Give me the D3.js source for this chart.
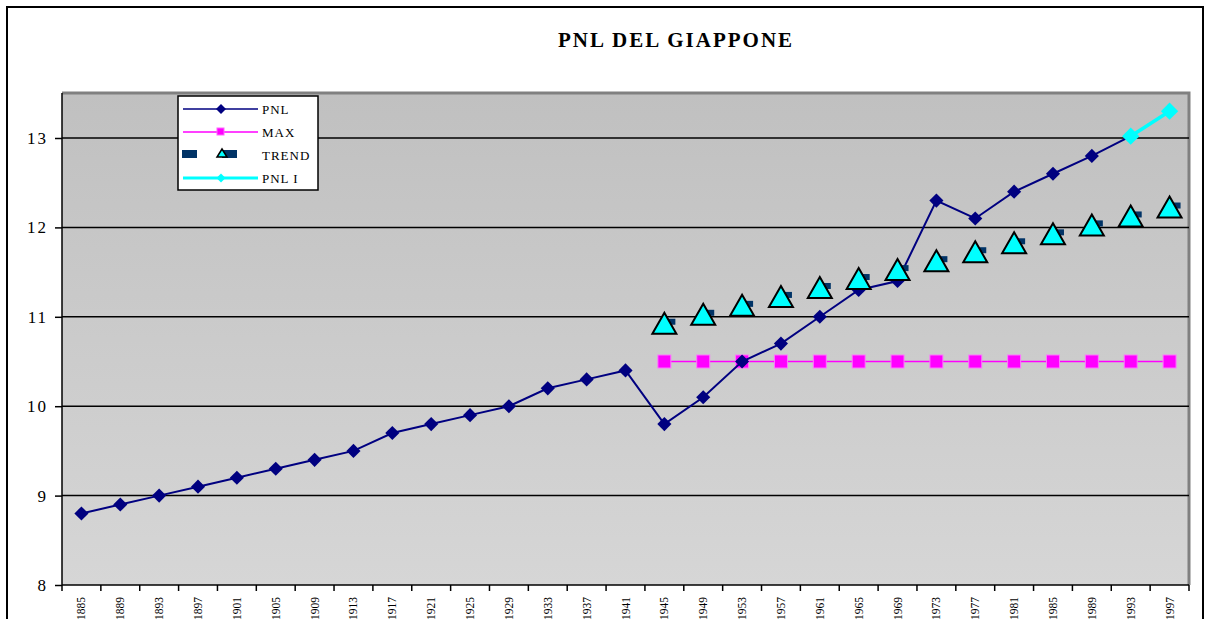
<!DOCTYPE html>
<html>
<head>
<meta charset="utf-8">
<script src="https://cdn.jsdelivr.net/npm/d3@7"></script>
<style>
  body { margin: 0; background: #fff; }
  svg text { font-family: "Liberation Serif", "Times New Roman", "DejaVu Serif", serif !important; }
</style>
</head>
<body>
<div id="chart"></div>
<script>
// data
const years = d3.range(1885, 1998, 4).map(String);
const pnl = [8.8, 8.9, 9.0, 9.1, 9.2, 9.3, 9.4, 9.5, 9.7, 9.8, 9.9, 10.0, 10.2, 10.3, 10.4,
             9.8, 10.1, 10.5, 10.7, 11.0, 11.3, 11.4, 12.3, 12.1, 12.4, 12.6, 12.8, 13.02];
const maxYears = years.slice(15);
const maxVals = maxYears.map(() => 10.5);
const trendYears = years.slice(15);
const trend = [10.9, 11.0, 11.1, 11.2, 11.3, 11.4, 11.5, 11.6, 11.7, 11.8, 11.9, 12.0, 12.1, 12.2];
const pnlIYears = ["1993", "1997"];
const pnlI = [13.02, 13.3];
const yTicks = [8, 9, 10, 11, 12, 13];

const W = 1212, H = 619;
const m = {left: 62, right: 1189, top: 93, bottom: 585};
const SERIF = "'Liberation Serif', 'Times New Roman', serif";

let svg = d3.select("#chart").append("svg").attr("width", W).attr("height", H);

// outer frame
svg.append("rect").attr("x", 7).attr("y", 7).attr("width", 1196).attr("height", 640)
    .attr("fill", "#fff").attr("stroke", "#000").attr("stroke-width", 2);

let x = d3.scaleBand().domain(years).range([m.left, m.right]);
let y = d3.scaleLinear().domain([8, 13.5]).range([m.bottom, m.bottom - 5.5 * 89.4]);

// plot background gradient
let defs = svg.append("defs");
let grad = defs.append("linearGradient").attr("id", "bg").attr("x1", 0).attr("y1", 0).attr("x2", 0).attr("y2", 1);
grad.append("stop").attr("offset", "0%").attr("stop-color", "#c0c0c0");
grad.append("stop").attr("offset", "100%").attr("stop-color", "#d6d6d6");

svg.append("rect").attr("x", m.left).attr("y", m.top)
    .attr("width", m.right - m.left).attr("height", m.bottom - m.top)
    .attr("fill", "url(#bg)");
svg.append("path")
    .attr("d", `M${m.left},${m.top}H${m.right}V${m.bottom}`)
    .attr("fill", "none").attr("stroke", "#808080").attr("stroke-width", 3);

// gridlines
svg.selectAll(".grid").data(yTicks.slice(1)).enter().append("line")
    .attr("x1", m.left).attr("x2", m.right)
    .attr("y1", d => y(d)).attr("y2", d => y(d))
    .attr("stroke", "#000").attr("stroke-width", 1.5);

// title
svg.append("text").attr("x", 676).attr("y", 47).attr("text-anchor", "middle")
    .attr("font-family", SERIF)
    .attr("font-size", 21).attr("font-weight", "bold").attr("letter-spacing", 2)
    .text("PNL DEL GIAPPONE");

// y axis
let yAxis = svg.append("g").attr("transform", `translate(${m.left},0)`)
    .call(d3.axisLeft(y).tickValues(yTicks).tickSize(7).tickFormat(d3.format("d")));
yAxis.attr("font-family", SERIF);
yAxis.select(".domain").attr("d", `M0,${m.top}V${m.bottom}`).attr("stroke", "#000").attr("stroke-width", 1.5);
yAxis.selectAll(".tick line").attr("stroke", "#000").attr("stroke-width", 1.5);
yAxis.selectAll("text").attr("font-size", 17)
    .attr("fill", "#000").attr("x", -14).attr("letter-spacing", 2);

// x axis
let xAxis = svg.append("g").attr("transform", `translate(0,${m.bottom})`).attr("font-family", SERIF);
xAxis.append("line").attr("x1", m.left).attr("x2", m.right).attr("stroke", "#000").attr("stroke-width", 1.5);
let bounds = years.map(d => x(d)).concat([m.right]);
xAxis.selectAll(".xt").data(bounds).enter().append("line")
    .attr("x1", d => d).attr("x2", d => d).attr("y1", 0).attr("y2", 6)
    .attr("stroke", "#000").attr("stroke-width", 1.5);
xAxis.selectAll(".xl").data(years).enter().append("text")
    .attr("transform", d => `translate(${x(d) + x.bandwidth() / 2 + 4},12) rotate(-90)`)
    .attr("text-anchor", "end").attr("font-size", 11.5).text(d => d);

let cx = d => x(d) + x.bandwidth() / 2;
let line = d3.line().x(d => cx(d[0])).y(d => y(d[1]));

// MAX
let maxData = maxYears.map((d, i) => [d, maxVals[i]]);
svg.append("path").datum(maxData).attr("d", line)
    .attr("fill", "none").attr("stroke", "#ff00ff").attr("stroke-width", 1.5);
svg.selectAll(".maxm").data(maxData).enter().append("rect")
    .attr("x", d => cx(d[0]) - 6.5).attr("y", d => y(d[1]) - 6.5)
    .attr("width", 13).attr("height", 13)
    .attr("fill", "#ff00ff").attr("stroke", "#ff77ff").attr("stroke-width", 1);

// PNL
let pnlData = pnl.map((v, i) => [years[i], v]);
svg.append("path").datum(pnlData).attr("d", line)
    .attr("fill", "none").attr("stroke", "#000080").attr("stroke-width", 2);
let diamond = d3.symbol().type(d3.symbolSquare).size(100);
svg.selectAll(".pnlm").data(pnlData).enter().append("path")
    .attr("d", diamond)
    .attr("transform", d => `translate(${cx(d[0])},${y(d[1])}) rotate(45)`)
    .attr("fill", "#000080");

// PNL I
let pnlIData = pnlIYears.map((d, i) => [d, pnlI[i]]);
svg.append("path").datum(pnlIData).attr("d", line)
    .attr("fill", "none").attr("stroke", "#00ffff").attr("stroke-width", 3.5);
svg.selectAll(".pnlim").data(pnlIData).enter().append("path")
    .attr("d", d3.symbol().type(d3.symbolSquare).size(150))
    .attr("transform", d => `translate(${cx(d[0])},${y(d[1])}) rotate(45)`)
    .attr("fill", "#00ffff");

// TREND
let trendData = trendYears.map((d, i) => [d, trend[i]]);
svg.selectAll(".trs").data(trendData).enter().append("rect")
    .attr("x", d => cx(d[0]) + 4).attr("y", d => y(d[1]) - 7)
    .attr("width", 7).attr("height", 6).attr("fill", "#003366");
let tri = d => {
    let px = cx(d[0]), py = y(d[1]);
    return `M${px},${py - 13}L${px + 12},${py + 8}L${px - 12},${py + 8}Z`;
};
svg.selectAll(".trm").data(trendData).enter().append("path")
    .attr("d", tri).attr("fill", "#00ffff").attr("stroke", "#000").attr("stroke-width", 2);

// legend
let lg = svg.append("g").attr("font-family", SERIF);
lg.append("rect").attr("x", 178).attr("y", 96).attr("width", 140).attr("height", 94)
    .attr("fill", "#fff").attr("stroke", "#000").attr("stroke-width", 1.5);
let items = [
    {name: "PNL", y: 109},
    {name: "MAX", y: 132},
    {name: "TREND", y: 155},
    {name: "PNL I", y: 178}
];
lg.selectAll("text").data(items).enter().append("text")
    .attr("x", 262).attr("y", d => d.y + 5).attr("font-size", 13).attr("letter-spacing", 1)
    .text(d => d.name);
// PNL entry
lg.append("line").attr("x1", 183).attr("x2", 258).attr("y1", 109).attr("y2", 109)
    .attr("stroke", "#000080").attr("stroke-width", 1.5);
lg.append("path").attr("d", d3.symbol().type(d3.symbolSquare).size(50))
    .attr("transform", "translate(221,109) rotate(45)").attr("fill", "#000080");
// MAX entry
lg.append("line").attr("x1", 183).attr("x2", 258).attr("y1", 132).attr("y2", 132)
    .attr("stroke", "#ff00ff").attr("stroke-width", 1.5);
lg.append("rect").attr("x", 217).attr("y", 128).attr("width", 7).attr("height", 7)
    .attr("fill", "#ff00ff").attr("stroke", "#ff66ff");
// TREND entry
lg.append("rect").attr("x", 182).attr("y", 150).attr("width", 15).attr("height", 8).attr("fill", "#003366");
lg.append("rect").attr("x", 222).attr("y", 150).attr("width", 15).attr("height", 8).attr("fill", "#003366");
lg.append("path").attr("d", "M222,149L227,157L217,157Z")
    .attr("fill", "#00ffff").attr("stroke", "#000").attr("stroke-width", 1.5);
// PNL I entry
lg.append("line").attr("x1", 183).attr("x2", 258).attr("y1", 178).attr("y2", 178)
    .attr("stroke", "#00ffff").attr("stroke-width", 3);
lg.append("path").attr("d", d3.symbol().type(d3.symbolSquare).size(40))
    .attr("transform", "translate(221,178) rotate(45)").attr("fill", "#00ffff");
</script>
</body>
</html>
